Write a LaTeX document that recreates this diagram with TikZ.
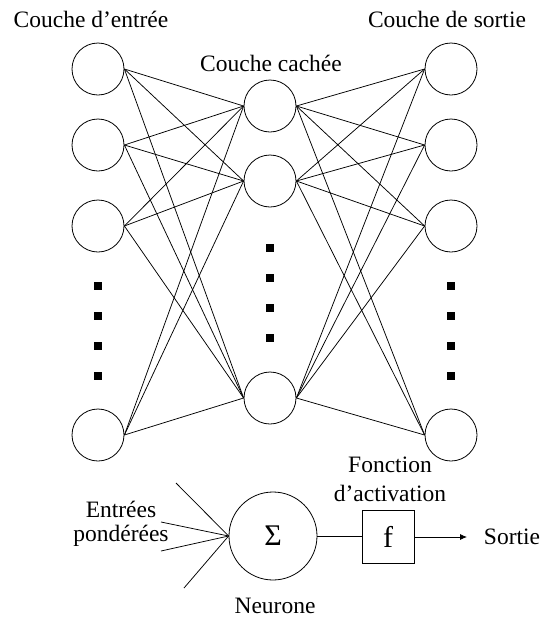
\documentclass[tikz,border=0pt]{standalone}
\usepackage{fontspec}
\setmainfont{Liberation Serif}
\usetikzlibrary{arrows.meta}
\begin{document}
\begin{tikzpicture}[x=1pt,y=-1pt,
  neuron/.style={circle,draw,line width=0.8pt,minimum size=52pt,inner sep=0pt},
  dotsq/.style={rectangle,fill=black,minimum size=8pt,inner sep=0pt},
  lbl/.style={font=\fontsize{23.5}{27}\selectfont,inner sep=0pt},
  conn/.style={line width=0.75pt}]
\useasboundingbox (0,0) rectangle (539,619);
\fill[white] (0,0) rectangle (539,619);
% labels
\node[lbl] (tin) at (91,19) {Couche d’entrée};
\node[lbl] (thid) at (271,63) {Couche cachée};
\node[lbl] (tout) at (447,19) {Couche de sortie};
% input layer
\node[neuron] (i1) at (98,69) {};
\node[neuron] (i2) at (98,145) {};
\node[neuron] (i3) at (98,226) {};
\node[neuron] (i4) at (98,435) {};
\node[dotsq] (di1) at (98,286) {};
\node[dotsq] (di2) at (98,316) {};
\node[dotsq] (di3) at (98,346) {};
\node[dotsq] (di4) at (98,376) {};
% hidden layer
\node[neuron] (h1) at (270,106) {};
\node[neuron] (h2) at (270,181) {};
\node[neuron] (h3) at (270,398) {};
\node[dotsq] (dh1) at (270,248) {};
\node[dotsq] (dh2) at (270,278) {};
\node[dotsq] (dh3) at (270,308) {};
\node[dotsq] (dh4) at (270,338) {};
% output layer
\node[neuron] (o1) at (451,69) {};
\node[neuron] (o2) at (451,145) {};
\node[neuron] (o3) at (451,226) {};
\node[neuron] (o4) at (451,435) {};
\node[dotsq] (do1) at (451,286) {};
\node[dotsq] (do2) at (451,316) {};
\node[dotsq] (do3) at (451,346) {};
\node[dotsq] (do4) at (451,376) {};
% connections
\foreach \i in {i1,i2,i3,i4}
  \foreach \h in {h1,h2,h3}
    \draw[conn] (\i.east) -- (\h.west);
\foreach \h in {h1,h2,h3}
  \foreach \o in {o1,o2,o3,o4}
    \draw[conn] (\h.east) -- (\o.west);
% neuron detail
\node[circle,draw,line width=0.8pt,minimum size=88pt,inner sep=0pt,font=\fontsize{30}{32}\selectfont] (sig) at (273,536) {Σ};
\node[rectangle,draw,line width=0.8pt,minimum width=52pt,minimum height=53pt,inner sep=0pt,font=\fontsize{30}{32}\selectfont] (f) at (388,537) {f};
\coordinate (w1) at (176,483);
\coordinate (w2) at (161,522);
\coordinate (w3) at (161,551);
\coordinate (w4) at (184,588);
\coordinate (out) at (467,537);
\foreach \w in {w1,w2,w3,w4}
  \draw[conn] (\w) -- (sig.west);
\draw[conn] (sig.east) -- (f.west |- sig.east);
\draw[conn,-{Latex[length=7pt,width=6pt]}] (f.east) -- (out);
\node[lbl] (entr) at (121,509) {Entrées};
\node[lbl] (pond) at (121,536) {pondérées};
\node[lbl] (fonc) at (390,465) {Fonction};
\node[lbl] (act) at (390,493) {d’activation};
\node[lbl] (sort) at (512,537) {Sortie};
\node[lbl] (neur) at (275,606) {Neurone};
\end{tikzpicture}
\end{document}
